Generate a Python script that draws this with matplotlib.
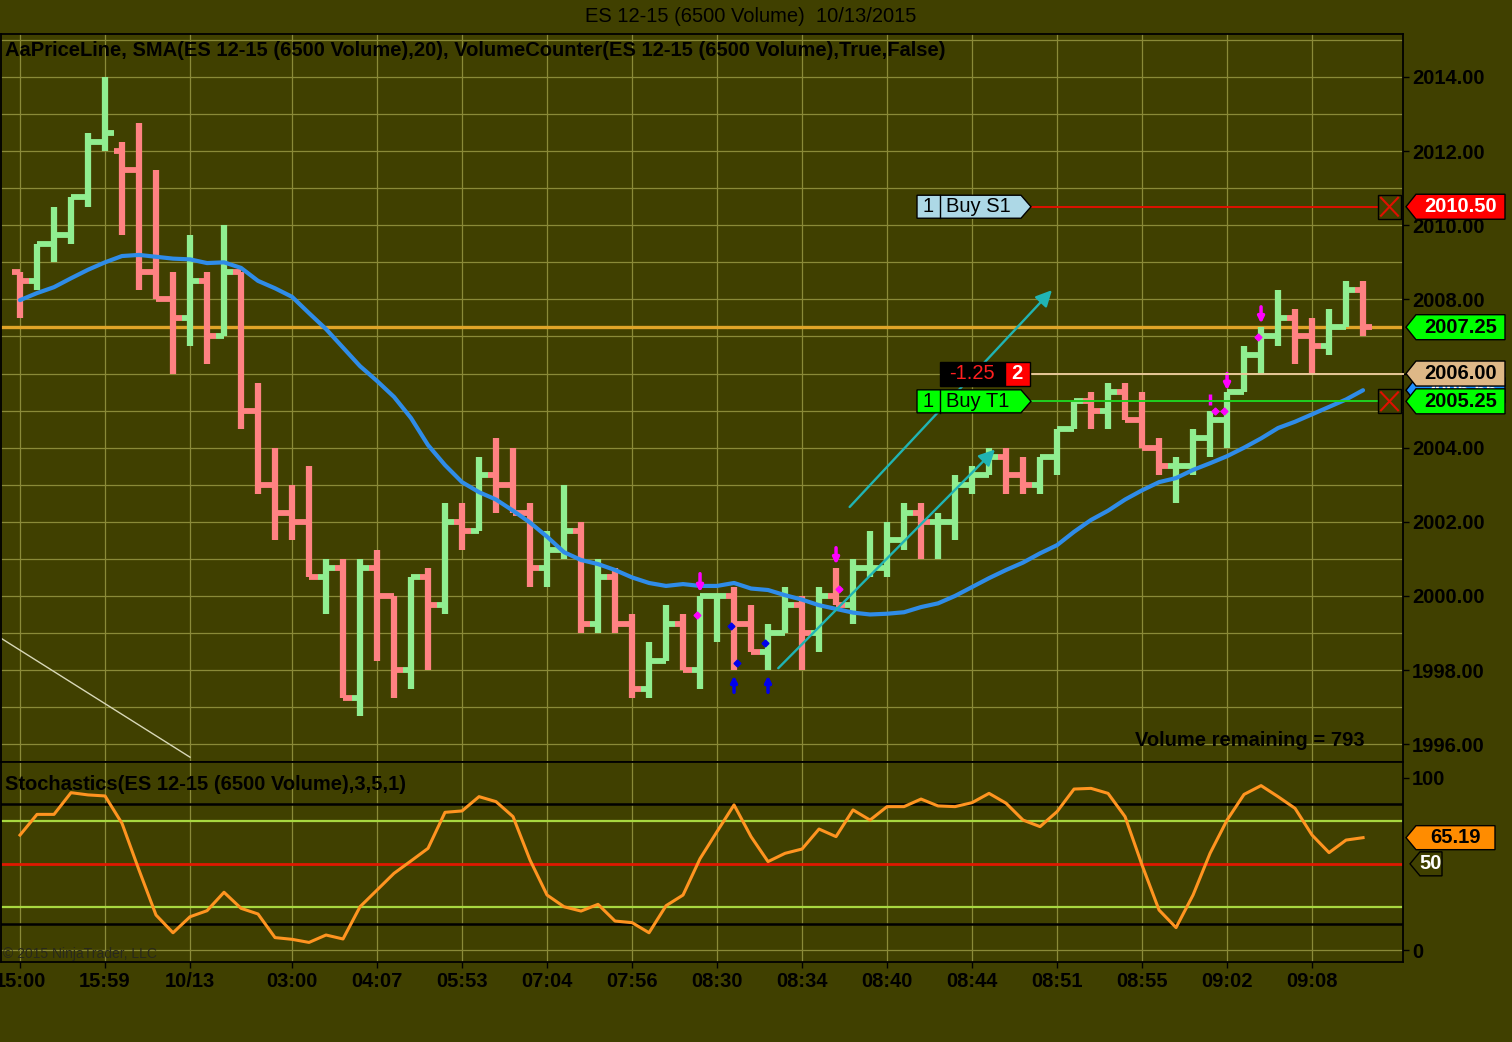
import matplotlib
matplotlib.use("Agg")
import matplotlib.pyplot as plt
from matplotlib.patches import Polygon, Rectangle
from matplotlib.lines import Line2D
import numpy as np

plt.rcParams['font.family'] = ['Liberation Sans', 'DejaVu Sans']

# ES 12-15 (6500 Volume) bars, 10/13/2015
opens = [2008.75, 2008.5, 2009.5, 2009.75, 2010.75, 2012.25, 2012, 2011.5, 2008.75, 2008,
         2007.5, 2008.5, 2007, 2008.75, 2005, 2003, 2002.25, 2002, 2000.5, 2000.75,
         1997.25, 2000.75, 2000, 1998, 2000.5, 1999.75, 2002, 2001.75, 2003.25, 2003,
         2002.25, 2000.75, 2001.25, 2001.75, 1999.25, 2000.5, 1999.25, 1997.5, 1998.25, 1999.25,
         1998, 2000, 2000, 1999.25, 1998.5, 1999, 1999.75, 1999, 2000, 1999.75,
         2000.75, 2000.75, 2001.5, 2002.25, 2002, 2002, 2003, 2003.25, 2003.75, 2003.25,
         2003, 2003.75, 2004.5, 2005.25, 2005, 2005.5, 2004.75, 2004, 2003.5, 2003.5,
         2004.25, 2004.75, 2005.5, 2006.5, 2007, 2007.5, 2007, 2006.75, 2007.25, 2008.25]
highs = [2008.75, 2009.5, 2010.5, 2010.75, 2012.5, 2014, 2012.25, 2012.75, 2011.5, 2008.75,
         2009.75, 2008.75, 2010, 2008.75, 2005.75, 2004, 2003, 2003.5, 2001, 2001,
         2001, 2001.25, 2000, 2000.5, 2000.75, 2002.5, 2002.5, 2003.75, 2004.25, 2004,
         2002.5, 2001.75, 2003, 2002, 2001, 2000.75, 1999.5, 1998.75, 1999.75, 1999.5,
         2000, 2000, 2000.25, 1999.75, 1999.25, 2000.25, 2000, 2000.25, 2000.75, 2001,
         2001.75, 2002, 2002.5, 2002.5, 2002.25, 2003.25, 2003.5, 2004, 2004, 2003.75,
         2003.75, 2004.5, 2005.25, 2005.5, 2005.75, 2005.75, 2005.5, 2004.25, 2003.75, 2004.5,
         2005, 2005.5, 2006.75, 2007.25, 2008.25, 2007.75, 2007.5, 2007.75, 2008.5, 2008.5]
lows = [2007.5, 2008.25, 2009, 2009.5, 2010.5, 2012, 2009.75, 2008.25, 2008, 2006,
        2006.75, 2006.25, 2007, 2004.5, 2002.75, 2001.5, 2001.5, 2000.5, 1999.5, 1997.25,
        1996.75, 1998.25, 1997.25, 1997.5, 1998, 1999.5, 2001.25, 2001.75, 2002.25, 2002.25,
        2000.25, 2000.25, 2001, 1999, 1999, 1999, 1997.25, 1997.25, 1998.25, 1998,
        1997.5, 1998.75, 1998, 1998.5, 1998, 1999, 1998, 1998.5, 1999.75, 1999.25,
        2000.5, 2000.5, 2001.25, 2001, 2001, 2001.5, 2002.75, 2003.25, 2002.75, 2002.75,
        2002.75, 2003.25, 2004.5, 2004.5, 2004.5, 2004.75, 2004, 2003.25, 2002.5, 2003.25,
        2003.75, 2004, 2005.5, 2006, 2006.75, 2006.25, 2006, 2006.5, 2007.25, 2007]
closes = [2008.5, 2009.5, 2009.75, 2010.75, 2012.25, 2012.5, 2011.5, 2008.75, 2008, 2007.5,
          2008.5, 2007, 2008.75, 2005, 2003, 2002.25, 2002, 2000.5, 2000.75, 1997.25,
          2000.75, 2000, 1998, 2000.5, 1999.75, 2002, 2001.75, 2003.25, 2003, 2002.25,
          2000.75, 2001.25, 2001.75, 1999.25, 2000.5, 1999.25, 1997.5, 1998.25, 1999.25, 1998,
          2000, 2000, 1999.25, 1998.5, 1999, 1999.75, 1999, 2000, 1999.75, 2000.75,
          2000.75, 2001.5, 2002.25, 2002, 2002, 2003, 2003.25, 2003.75, 2003.25, 2003,
          2003.75, 2004.5, 2005.25, 2005, 2005.5, 2004.75, 2004, 2003.5, 2003.5, 2004.25,
          2004.75, 2005.5, 2006.5, 2007, 2007.5, 2007, 2006.75, 2007.25, 2008.25, 2007.25]
sma20 = [2007.98, 2008.17, 2008.33, 2008.57, 2008.8, 2009.0, 2009.17, 2009.2, 2009.15, 2009.1,
         2009.08, 2008.98, 2009.0, 2008.85, 2008.5, 2008.3, 2008.07, 2007.63, 2007.2, 2006.7,
         2006.2, 2005.8, 2005.37, 2004.8, 2004.07, 2003.53, 2003.07, 2002.8, 2002.6, 2002.3,
         2001.98, 2001.6, 2001.18, 2000.97, 2000.86, 2000.7, 2000.5, 2000.35, 2000.27, 2000.32,
         2000.27, 2000.27, 2000.35, 2000.2, 2000.16, 2000.02, 1999.9, 1999.75, 1999.65, 1999.55,
         1999.5, 1999.52, 1999.56, 1999.7, 1999.8, 2000.0, 2000.24, 2000.48, 2000.7, 2000.9,
         2001.15, 2001.37, 2001.73, 2002.05, 2002.3, 2002.6, 2002.85, 2003.07, 2003.18, 2003.4,
         2003.58, 2003.77, 2004.0, 2004.25, 2004.53, 2004.7, 2004.9, 2005.1, 2005.3, 2005.55]
stoch = [66.7, 78.7, 78.7, 91.3, 90, 89.4, 73.5, 46.4, 20.3, 10,
         19.3, 22.8, 33.5, 24.2, 20.9, 7.2, 6.2, 4.4, 8.7, 6.4,
         25.1, 34.8, 44.5, 51.7, 59, 79.9, 80.7, 89, 86.1, 77.4,
         52.2, 31.9, 25.1, 22.6, 26.5, 16.8, 15.9, 10, 25.7, 31.9,
         53, 68.7, 84.2, 65.8, 51.3, 56.1, 58.6, 70.2, 65.8, 81.3,
         75.4, 83.2, 83.2, 87.6, 83.6, 83.2, 85.5, 90.9, 85.2, 75.4,
         71.6, 80.3, 93.4, 93.8, 90.9, 77.4, 49.3, 23.2, 13, 31.9,
         56.1, 75.4, 90.3, 95.4, 89, 82.2, 66.7, 56.5, 63.8, 65.19]

time_idx = [0, 5, 10, 16, 21, 26, 31, 36, 41, 46, 51, 56, 61, 66, 71, 76]
time_labels = ['15:00', '15:59', '10/13', '03:00', '04:07', '05:53', '07:04', '07:56',
               '08:30', '08:34', '08:40', '08:44', '08:51', '08:55', '09:02', '09:08']

last_price = 2007.25
sell_target = 2010.50
buy_stop = 2005.25
entry_price = 2006.00
sma_last = 2005.55
stoch_last = 65.19

# drawn trend arrows (bar index, price)
arrow_start = [(48.8, 2002.4), (44.6, 1998.05)]
arrow_end = [(60.7, 2008.25), (57.35, 2003.95)]
diag_line = [(-1.12, 1998.86), (10.0, 1995.65)]

# signal markers
mag_arrow_x = [40, 48, 71, 73]
mag_arrow_top = [2000.6, 2001.3, 2006.0, 2007.8]
mag_arrow_bot = [2000.1, 2000.85, 2005.55, 2007.35]
blue_arrow_x = [42, 44]
blue_arrow_bot = [1997.4, 1997.4]
blue_arrow_top = [1997.85, 1997.85]
mag_dots_x = [39.8, 48.2, 70.3, 70.8, 72.8]
mag_dots_y = [1999.48, 2000.2, 2004.99, 2004.99, 2006.98]
blue_dots_x = [41.8, 42.2, 43.8]
blue_dots_y = [1999.2, 1998.2, 1998.73]

BG = '#404000'
GRID = '#8a8a38'
UP = '#90ee90'
DN = '#ff8282'
FS = 14.5

W, H = 1512, 1042
fig = plt.figure(figsize=(W / 100, H / 100), dpi=100)
fig.patch.set_facecolor(BG)


def frame(left, top, right, bottom):
    return [left / W, 1 - bottom / H, (right - left) / W, (bottom - top) / H]


ax = fig.add_axes(frame(1, 34, 1403, 762))
ax2 = fig.add_axes(frame(1, 762, 1403, 962))
for a in (ax, ax2):
    a.set_facecolor(BG)
    a.set_xlim(-1.118, 81.35)
    for s in a.spines.values():
        s.set_color('black')
        s.set_linewidth(1.3)
ax.set_ylim(1995.52, 2015.16)
ax2.set_ylim(-6.96, 109.1)

# grid
for p in range(1996, 2016):
    ax.axhline(p, color=GRID, lw=0.9, zorder=0)
for i in time_idx:
    ax.axvline(i, color=GRID, lw=0.9, zorder=0)
    ax2.axvline(i, color=GRID, lw=0.9, zorder=0)
ax2.axhline(0, color=GRID, lw=0.9, zorder=0)

# OHLC bars
idx = np.arange(len(closes))
cols = [UP if c >= o else DN for o, c in zip(opens, closes)]
ax.vlines(idx, lows, highs, colors=cols, lw=4.5, capstyle='butt', zorder=3)
ax.hlines(opens, idx - 0.5, idx, colors=cols, lw=4.2, capstyle='butt', zorder=3)
ax.hlines(closes, idx, idx + 0.5, colors=cols, lw=4.2, capstyle='butt', zorder=3)

ax.plot(idx, sma20, color='#2f8ce8', lw=3.0, zorder=4, solid_capstyle='round')
ax.axhline(last_price, color='#e0a428', lw=2.4, zorder=2)

# drawn objects
ax.plot([p[0] for p in diag_line], [p[1] for p in diag_line], color='#d8d8b8', lw=1, zorder=2)
for s, e in zip(arrow_start, arrow_end):
    ax.annotate('', xy=e, xytext=s, zorder=5,
                arrowprops=dict(arrowstyle='-|>', color='#20b4b4', lw=1.7, mutation_scale=24,
                                shrinkA=0, shrinkB=0))
for x, t, b in zip(mag_arrow_x, mag_arrow_top, mag_arrow_bot):
    ax.annotate('', xy=(x, b), xytext=(x, t), zorder=6,
                arrowprops=dict(arrowstyle='-|>', color='#ff00ff', lw=2.5, mutation_scale=9,
                                shrinkA=0, shrinkB=0))
for x, t, b in zip(blue_arrow_x, blue_arrow_top, blue_arrow_bot):
    ax.annotate('', xy=(x, t), xytext=(x, b), zorder=6,
                arrowprops=dict(arrowstyle='-|>', color='#0000ee', lw=2.5, mutation_scale=9,
                                shrinkA=0, shrinkB=0))
ax.plot(mag_dots_x, mag_dots_y, 'D', color='#ff00ff', ms=3.5, zorder=6)
ax.plot(blue_dots_x, blue_dots_y, 'D', color='#0000ee', ms=3.5, zorder=6)
ax.vlines([70], [2005.15], [2005.45], colors='#ff00ff', lw=2.5, zorder=6)

# right axis ticks
ax.yaxis.tick_right()
ax.set_yticks(np.arange(1996, 2015, 2))
ax.set_yticklabels([f'{v:.2f}' for v in np.arange(1996, 2015, 2)])
ax.tick_params(axis='y', direction='out', length=4.5, width=1, colors='black', labelsize=FS, pad=2)
ax.tick_params(axis='x', bottom=False, labelbottom=False)

ax2.yaxis.tick_right()
ax2.set_yticks([0, 100])
ax2.set_yticklabels(['0', '100'])
ax2.tick_params(axis='y', direction='out', length=4.5, width=1, colors='black', labelsize=FS, pad=2)
ax2.set_xticks(time_idx)
ax2.set_xticklabels(time_labels)
ax2.tick_params(axis='x', direction='out', length=4.5, width=1, colors='black', labelsize=FS, pad=3)
for lab in ax.get_yticklabels() + ax2.get_yticklabels() + ax2.get_xticklabels():
    lab.set_fontweight('bold')

# stochastics
for lvl, c, lw in [(85, 'black', 1.8), (15, 'black', 1.8), (75, '#a8d840', 1.6),
                   (25, '#a8d840', 1.6), (50, '#e01800', 2.0)]:
    ax2.axhline(lvl, color=c, lw=lw, zorder=1)
ax2.plot(idx, stoch, color='#ff9420', lw=2.2, zorder=4)


def fig_poly(pts, **kw):
    fig.add_artist(Polygon([(x / W, y / H) for x, y in pts], closed=True,
                           transform=fig.transFigure, **kw))


def ydisp(a, v):
    return a.transData.transform((0, v))[1]


def tag(a, val, text, fc, tc, x0=1406, x1=1505, h=25, z=5, ec='black'):
    yc = ydisp(a, val)
    fig_poly([(x0, yc), (x0 + 10, yc + h / 2), (x1, yc + h / 2), (x1, yc - h / 2), (x0 + 10, yc - h / 2)],
             fc=fc, ec=ec, lw=1, zorder=z)
    fig.text((x0 + 10 + x1) / 2 / W, yc / H, text, color=tc, fontsize=FS, fontweight='bold',
             ha='center', va='center', zorder=z + 0.5)


def xbox(a, val):
    yc = ydisp(a, val)
    x0, x1, h = 1378, 1401, 24
    fig.add_artist(Rectangle((x0 / W, (yc - h / 2) / H), (x1 - x0) / W, h / H, transform=fig.transFigure,
                             fc=BG, ec='black', lw=1, zorder=5))
    for ya, yb in [(yc - h / 2 + 3, yc + h / 2 - 3), (yc + h / 2 - 3, yc - h / 2 + 3)]:
        fig.add_artist(Line2D([(x0 + 3) / W, (x1 - 3) / W], [ya / H, yb / H], transform=fig.transFigure,
                              color='#e01000', lw=1.5, zorder=5.5))


def hline_px(a, val, x0, x1, color, lw=1.4):
    yc = ydisp(a, val)
    fig.add_artist(Line2D([x0 / W, x1 / W], [yc / H, yc / H], transform=fig.transFigure,
                          color=color, lw=lw, zorder=4))


def order_label(val, num, text, fc):
    yc = ydisp(ax, val)
    x0, xd, x1, xt, h = 917, 940, 1021, 1031, 23
    fig_poly([(x0, yc - h / 2), (x1, yc - h / 2), (xt, yc), (x1, yc + h / 2), (x0, yc + h / 2)],
             fc=fc, ec='black', lw=1, zorder=5)
    fig.add_artist(Line2D([xd / W, xd / W], [(yc - h / 2) / H, (yc + h / 2) / H],
                          transform=fig.transFigure, color='black', lw=1, zorder=5.5))
    fig.text((x0 + xd) / 2 / W, yc / H, num, fontsize=FS, ha='center', va='center', zorder=6)
    fig.text((xd + 6) / W, yc / H, text, fontsize=FS, ha='left', va='center', zorder=6)


# order lines
hline_px(ax, sell_target, 1031, 1378, '#e01000')
hline_px(ax, buy_stop, 1031, 1378, '#20d020')
hline_px(ax, entry_price, 1031, 1403, '#e8c898')
xbox(ax, sell_target)
xbox(ax, buy_stop)
order_label(sell_target, '1', 'Buy S1', '#add8e6')
order_label(buy_stop, '1', 'Buy T1', '#00ff00')

yc = ydisp(ax, entry_price)
fig.add_artist(Rectangle((940 / W, (yc - 12) / H), 65 / W, 24 / H, transform=fig.transFigure,
                         fc='black', ec='black', zorder=5))
fig.add_artist(Rectangle((1005 / W, (yc - 12) / H), 25 / W, 24 / H, transform=fig.transFigure,
                         fc='#ff0000', ec='black', zorder=5))
fig.text(972 / W, yc / H, '-1.25', color='#ff2020', fontsize=FS, ha='center', va='center', zorder=6)
fig.text(1017 / W, yc / H, '2', color='white', fontsize=FS, fontweight='bold',
         ha='center', va='center', zorder=6)

# price tags on axis
tag(ax, sell_target, '2010.50', '#ff0000', 'white')
tag(ax, last_price, '2007.25', '#00ff00', 'black')
tag(ax, sma_last, '2005.55', '#1e90ff', 'white', z=4)
tag(ax, entry_price, '2006.00', '#deb887', 'black')
tag(ax, buy_stop, '2005.25', '#00ff00', 'black')
tag(ax2, stoch_last, '65.19', '#ff8c00', 'black', x1=1495, h=24)
tag(ax2, 50, '50', BG, 'white', x0=1410, x1=1442, h=24)

# texts
fig.text(751 / W, 1 - 17 / H, 'ES 12-15 (6500 Volume)  10/13/2015', fontsize=FS, color='black',
         ha='center', va='center')
fig.text(5 / W, 1 - 51 / H,
         'AaPriceLine, SMA(ES 12-15 (6500 Volume),20), VolumeCounter(ES 12-15 (6500 Volume),True,False)',
         fontsize=FS, fontweight='bold', color='black', ha='left', va='center')
fig.text(5 / W, 1 - 785 / H, 'Stochastics(ES 12-15 (6500 Volume),3,5,1)',
         fontsize=FS, fontweight='bold', color='black', ha='left', va='center')
fig.text(1365 / W, 1 - 740 / H, 'Volume remaining = 793', fontsize=FS, fontweight='bold',
         color='black', ha='right', va='center')
fig.text(3 / W, 1 - 954 / H, '\u00a9 2015 NinjaTrader, LLC', fontsize=10, color='#28281c',
         ha='left', va='center')

fig.savefig('out.png', dpi=100, facecolor=BG)
